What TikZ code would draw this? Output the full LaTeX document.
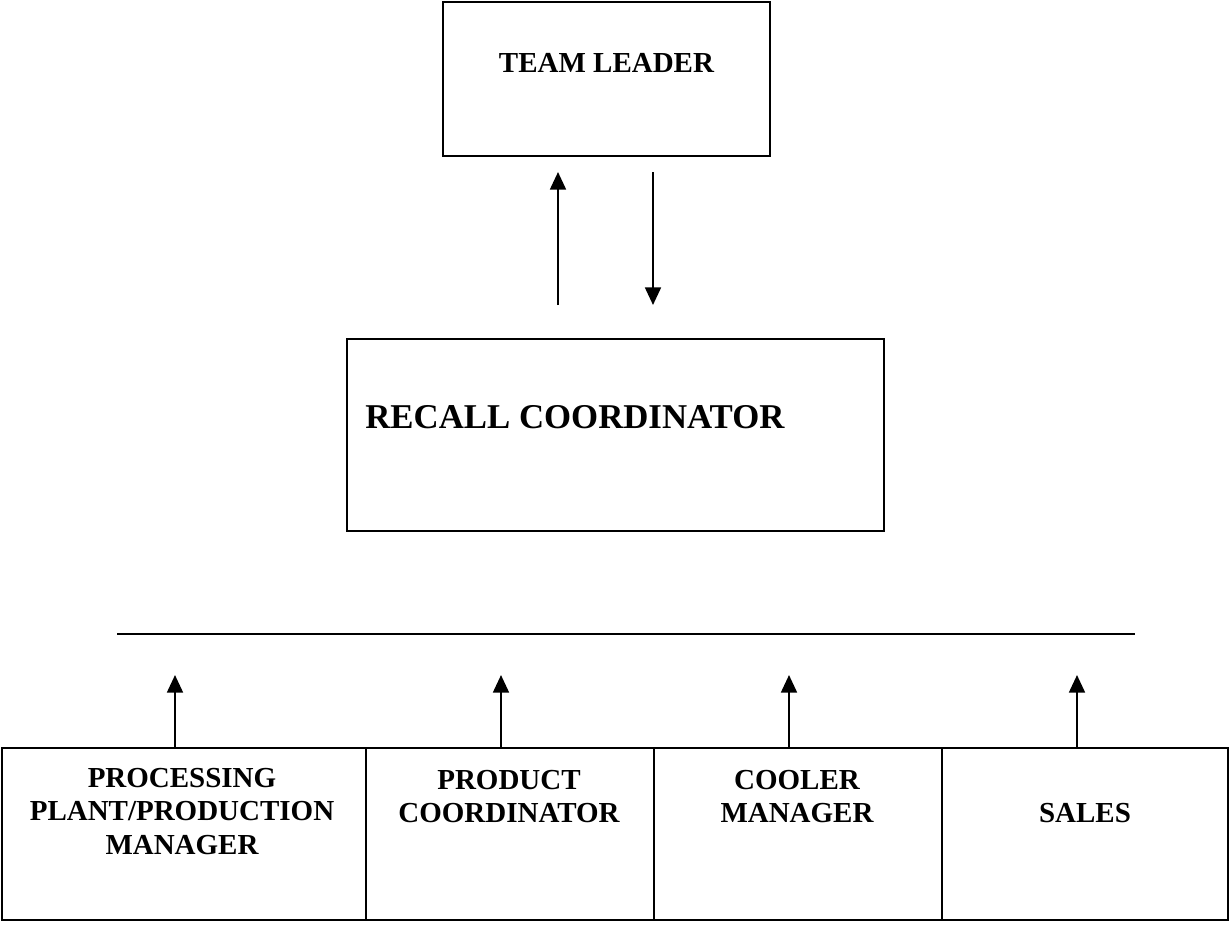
\documentclass[tikz,border=0pt]{standalone}
\usepackage{fontspec}
\setmainfont{Liberation Serif}
\usetikzlibrary{arrows.meta}

\begin{document}
\begin{tikzpicture}[x=0.02cm,y=-0.02cm,
  box/.style={draw,line width=1.3pt,inner sep=0pt},
  lbl/.style={font=\fontsize{16.5}{19}\selectfont\bfseries,align=center,inner sep=0pt},
  arr/.style={line width=1.3pt,-{Triangle[length=10pt,width=9pt]}}]
\useasboundingbox (0,0) rectangle (1230,924);

%Team Leader
\node[box,minimum width=6.54cm,minimum height=3.08cm,
] (leader) at (606.5,79){};
\node[lbl,anchor=base] (leadertxt) at (606.5,72){TEAM LEADER};

%Recall Coordinator
\node[box,minimum width=10.74cm,minimum height=3.84cm,
] (recall) at (615.5,435){};
\node[lbl,font=\fontsize{19.8}{24}\selectfont\bfseries,anchor=base west,
] (recalltxt) at (365,428){RECALL COORDINATOR};

%Arrows between leader and coordinator
\coordinate (upfrom) at (558,305);
\coordinate (upto) at (558,172);
\coordinate (downfrom) at (653,172);
\coordinate (downto) at (653,305);
\draw[arr] (upfrom) -- (upto);
\draw[arr] (downfrom) -- (downto);

%Horizontal line
\coordinate (linel) at (117,634);
\coordinate (liner) at (1135,634);
\draw[line width=1.3pt] (linel) -- (liner);

%%%%%%%%%%%%%%%%%Bottom row%%%%%%%%%%%%%%

%Processing
\node[box,minimum width=7.28cm,minimum height=3.44cm,
] (plant) at (184,834){};
\node[lbl,anchor=north] (planttxt) at (182,768){PROCESSING\\PLANT/PRODUCTION\\MANAGER};

%Product
\node[box,minimum width=5.76cm,minimum height=3.44cm,
] (product) at (510,834){};
\node[lbl,anchor=north] (producttxt) at (509,770){PRODUCT\\COORDINATOR};

%Cooler
\node[box,minimum width=5.76cm,minimum height=3.44cm,
] (cooler) at (798,834){};
\node[lbl,anchor=north] (coolertxt) at (797,770){COOLER\\MANAGER};

%Sales
\node[box,minimum width=5.72cm,minimum height=3.44cm,
] (sales) at (1085,834){};
\node[lbl,anchor=base] (salestxt) at (1085,822){SALES};

%Arrow tips
\coordinate (plantup) at (175,675);
\coordinate (productup) at (501,675);
\coordinate (coolerup) at (789,675);
\coordinate (salesup) at (1077,675);

\draw[arr] (plant.north -| plantup) -- (plantup);
\draw[arr] (product.north -| productup) -- (productup);
\draw[arr] (cooler.north -| coolerup) -- (coolerup);
\draw[arr] (sales.north -| salesup) -- (salesup);

\end{tikzpicture}
\end{document}
